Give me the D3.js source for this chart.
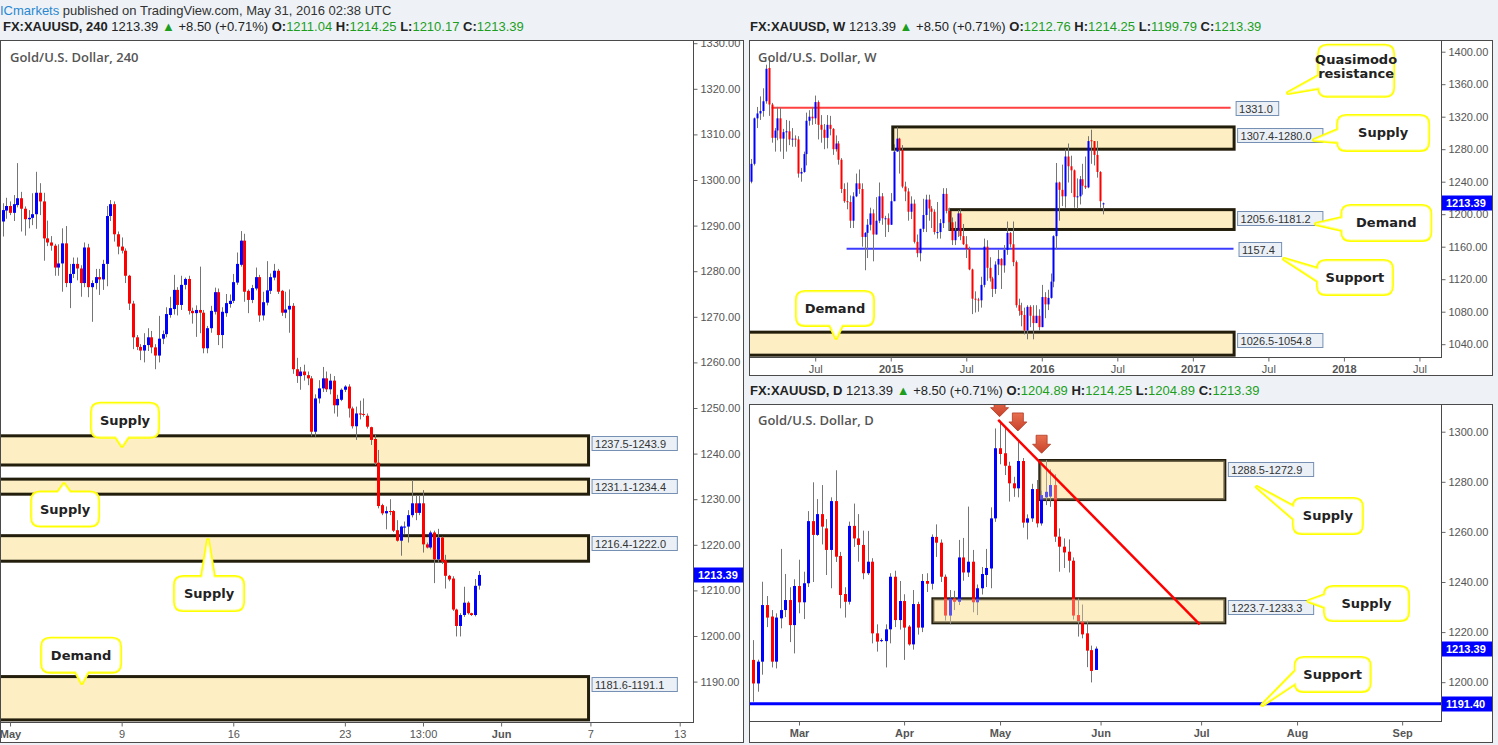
<!DOCTYPE html>
<html><head><meta charset="utf-8">
<script src="https://cdn.jsdelivr.net/npm/d3@7"></script>
<style>body{margin:0;background:#eef2f7;}svg{display:block}</style>
</head><body>
<svg id="c" width="1498" height="745"></svg>
<script>
// ================= DATA =================
// 4H candles [open, high, low, close]
const h4Candles = [
[1290.9,1294.9,1287.6,1293.4],[1293.3,1296.1,1291.5,1294.3],[1294.3,1295.3,1292.3,1292.8],[1292.8,1296.7,1291.0,1294.7],
[1294.5,1303.7,1294.0,1296.0],[1296.0,1297.4,1288.7,1293.7],[1293.7,1294.2,1287.8,1291.4],[1291.4,1293.4,1289.4,1291.7],
[1291.7,1297.1,1290.1,1292.5],[1292.5,1301.8,1289.3,1297.2],[1297.2,1299.3,1292.3,1295.3],[1295.3,1297.2,1282.3,1287.2],
[1287.2,1291.1,1285.5,1286.3],[1286.3,1287.7,1284.5,1285.6],[1285.6,1286.0,1279.0,1280.8],[1280.8,1285.9,1279.0,1281.7],
[1281.7,1289.4,1275.5,1286.1],[1286.1,1289.9,1276.5,1277.4],[1277.4,1281.6,1271.9,1279.4],[1279.4,1283.0,1278.5,1281.6],
[1281.6,1283.0,1278.0,1280.6],[1280.6,1281.3,1274.4,1277.4],[1277.4,1286.3,1276.5,1285.2],[1285.2,1286.0,1274.3,1276.5],
[1276.5,1278.0,1268.9,1277.4],[1277.4,1280.5,1276.0,1278.7],[1278.7,1280.5,1274.8,1278.2],[1278.2,1282.5,1275.9,1281.6],
[1281.6,1294.3,1276.7,1292.1],[1292.1,1295.6,1291.0,1294.7],[1294.7,1295.3,1286.5,1288.1],[1288.1,1288.7,1283.7,1285.4],
[1285.4,1287.4,1283.9,1284.5],[1284.5,1285.0,1277.4,1279.0],[1279.0,1279.2,1271.5,1272.9],[1272.9,1273.5,1262.9,1265.5],
[1265.5,1266.0,1262.7,1263.4],[1263.4,1264.0,1260.5,1262.6],[1262.6,1266.4,1260.0,1263.8],[1263.8,1267.5,1262.5,1265.5],
[1265.5,1266.9,1262.0,1263.3],[1263.3,1264.0,1258.5,1261.5],[1261.5,1270.2,1260.0,1265.2],[1265.2,1267.0,1264.0,1266.2],
[1266.2,1272.1,1265.5,1270.6],[1270.4,1274.4,1269.8,1271.9],[1271.7,1279.2,1270.5,1275.9],[1275.9,1276.5,1270.3,1272.6],
[1272.6,1279.0,1271.5,1277.0],[1277.0,1278.6,1276.0,1278.3],[1278.3,1279.0,1270.5,1271.3],[1271.3,1272.0,1268.5,1270.8],
[1270.8,1272.5,1265.6,1271.5],[1271.5,1281.0,1266.4,1270.9],[1270.9,1271.5,1262.0,1263.1],[1263.1,1268.0,1262.0,1267.5],
[1267.5,1272.4,1266.5,1271.3],[1271.1,1276.4,1270.5,1275.4],[1275.4,1276.2,1263.8,1266.0],[1266.0,1272.1,1263.1,1271.1],
[1270.8,1275.0,1270.0,1273.0],[1272.8,1274.9,1272.0,1273.5],[1273.5,1279.4,1273.0,1277.6],[1277.5,1284.1,1277.0,1281.6],
[1281.4,1288.8,1281.0,1286.7],[1286.7,1288.2,1273.3,1275.5],[1275.7,1276.0,1270.8,1273.7],[1273.7,1277.0,1273.0,1276.3],
[1276.2,1280.8,1275.8,1278.7],[1278.7,1279.2,1268.9,1270.3],[1270.3,1275.5,1269.2,1273.2],[1273.1,1282.2,1272.5,1275.8],
[1275.7,1279.5,1275.0,1278.7],[1278.6,1281.6,1278.0,1280.1],[1280.1,1280.5,1275.0,1275.5],[1275.7,1275.9,1270.2,1270.9],
[1270.9,1275.5,1269.7,1271.6],[1271.6,1276.0,1266.5,1272.4],[1272.4,1273.0,1257.5,1258.5],[1258.5,1261.0,1255.5,1257.0],
[1257.0,1259.0,1254.0,1258.0],[1258.0,1259.5,1256.0,1257.2],[1257.2,1258.0,1255.0,1256.5],[1256.5,1257.0,1243.8,1244.8],
[1244.8,1253.0,1243.7,1252.1],[1252.1,1256.1,1251.0,1254.3],[1254.3,1259.0,1253.5,1256.5],[1256.5,1258.0,1253.5,1254.1],
[1254.1,1257.5,1253.0,1256.0],[1256.0,1257.0,1248.8,1250.6],[1250.6,1252.9,1248.1,1252.0],[1251.8,1254.3,1251.5,1254.0],
[1254.0,1255.0,1253.5,1254.7],[1254.7,1255.2,1247.9,1249.9],[1249.9,1250.3,1245.5,1246.0],[1246.0,1250.3,1243.0,1248.8],
[1248.8,1251.6,1247.5,1248.7],[1248.7,1252.1,1248.1,1248.6],[1248.3,1248.8,1245.5,1245.9],[1245.8,1245.9,1241.9,1243.0],
[1243.2,1244.1,1237.5,1238.0],[1238.0,1240.8,1228.0,1228.5],[1228.7,1229.0,1226.5,1226.9],[1226.9,1228.4,1223.4,1227.4],
[1227.4,1230.0,1226.5,1227.3],[1227.4,1227.6,1222.8,1223.1],[1223.2,1225.4,1220.7,1220.9],[1220.9,1224.2,1217.6,1224.0],
[1223.8,1225.1,1222.4,1224.0],[1224.0,1227.6,1220.5,1226.5],[1226.5,1234.2,1226.0,1229.1],[1229.1,1230.9,1225.4,1227.0],
[1227.0,1230.9,1226.5,1229.1],[1229.1,1232.0,1218.3,1220.1],[1220.1,1220.5,1219.2,1219.4],[1219.4,1223.1,1219.0,1222.7],
[1222.7,1223.1,1211.6,1216.8],[1216.8,1223.5,1216.0,1221.6],[1221.6,1221.8,1215.8,1216.3],[1216.6,1217.8,1210.4,1213.2],
[1213.2,1213.4,1212.0,1212.4],[1212.6,1213.1,1205.5,1205.8],[1205.8,1206.0,1199.9,1202.2],[1202.2,1205.0,1199.9,1204.6],
[1204.6,1210.8,1204.2,1207.3],[1207.3,1207.6,1204.7,1205.0],[1205.0,1205.1,1204.4,1204.6],[1204.6,1212.5,1204.3,1211.0],
[1211.04,1214.25,1210.17,1213.39]
];
const h4TickIdx = [2,32,62,92,113,134,158,182];
const h4TickLabels = ['May','9','16','23','13:00','Jun','7','13'];
const h4TickBold = ['May','Jun'];
const h4PriceTicks = [1190,1200,1210,1220,1230,1240,1250,1260,1270,1280,1290,1300,1310,1320,1330];
const h4ZoneLow = [1237.5,1231.1,1216.4,1181.6];
const h4ZoneHigh = [1243.9,1234.4,1222.0,1191.1];
const h4ZoneText = ['1237.5-1243.9','1231.1-1234.4','1216.4-1222.0','1181.6-1191.1'];
const h4ZoneSpan = [-5,157.5];

// Weekly candles [open, high, low, close], from week of 3 Feb 2014
const wCandles = [
[1240,1268,1238,1262],[1262,1319,1260,1318],[1318,1332,1306,1324],[1324,1345,1316,1327],[1327,1355,1320,1339],
[1339,1384,1336,1379],[1380,1392,1321,1335],[1335,1337,1288,1294],[1294,1306,1277,1303],[1303,1332,1291,1318],
[1318,1331,1277,1293],[1293,1305,1268,1301],[1301,1316,1277,1302],[1302,1315,1285,1292],[1292,1306,1283,1293],
[1293,1297,1283,1292],[1292,1296,1245,1250],[1250,1257,1240,1252],[1252,1277,1251,1274],[1274,1325,1260,1315],
[1315,1328,1309,1320],[1320,1332,1310,1318],[1318,1346,1311,1338],[1338,1340,1292,1310],[1310,1322,1288,1304],
[1304,1311,1280,1294],[1294,1322,1281,1310],[1310,1321,1297,1305],[1305,1306,1273,1280],[1280,1297,1277,1287],
[1287,1290,1261,1267],[1267,1269,1226,1231],[1231,1238,1214,1216],[1216,1239,1206,1215],[1215,1223,1183,1192],
[1192,1227,1183,1222],[1222,1250,1221,1238],[1238,1255,1225,1231],[1231,1238,1160,1172],[1172,1178,1131,1177],
[1177,1194,1146,1187],[1187,1208,1180,1201],[1201,1206,1142,1175],[1175,1221,1175,1192],[1192,1239,1189,1222],
[1222,1226,1187,1195],[1195,1198,1172,1195],[1195,1201,1178,1187],
[1187,1226,1187,1216],[1216,1286,1216,1277],[1277,1307,1277,1293],[1293,1294,1250,1279],[1279,1285,1232,1234],
[1234,1240,1216,1228],[1228,1232,1192,1203],[1203,1222,1194,1213],[1213,1218,1164,1166],[1166,1175,1147,1152],
[1152,1182,1142,1182],[1182,1219,1178,1199],[1199,1224,1178,1218],[1218,1224,1192,1207],[1207,1210,1183,1203],
[1203,1206,1175,1178],[1178,1215,1170,1178],[1178,1194,1170,1189],[1189,1232,1183,1225],[1225,1232,1201,1204],
[1204,1208,1180,1190],[1190,1196,1162,1168],[1168,1191,1162,1180],[1180,1205,1172,1201],[1201,1206,1168,1173],
[1173,1188,1162,1163],[1163,1173,1146,1157],[1157,1160,1131,1132],[1132,1133,1077,1096],[1096,1105,1079,1095],
[1095,1097,1080,1094],[1094,1123,1085,1113],[1113,1170,1110,1160],[1160,1168,1118,1134],[1134,1147,1117,1121],
[1121,1123,1098,1108],[1108,1142,1102,1138],[1138,1156,1125,1145],[1145,1146,1108,1137],[1137,1162,1128,1156],
[1156,1191,1150,1177],[1177,1178,1159,1163],[1163,1191,1136,1141],[1141,1143,1085,1088],[1088,1096,1075,1081],
[1081,1091,1062,1076],[1076,1085,1052,1057],[1057,1088,1046,1086],[1086,1088,1061,1075],[1075,1088,1046,1066],
[1066,1088,1066,1075],[1075,1083,1057,1061],
[1061,1113,1061,1098],[1098,1104,1072,1089],[1089,1107,1082,1097],[1097,1127,1096,1117],[1117,1174,1110,1173],
[1173,1263,1157,1239],[1239,1240,1192,1230],[1230,1261,1210,1222],[1222,1280,1208,1271],[1271,1287,1239,1259],
[1259,1272,1226,1254],[1254,1255,1208,1221],[1221,1244,1207,1222],[1222,1247,1212,1243],[1243,1262,1224,1235],
[1235,1271,1231,1233],[1233,1296,1232,1290],[1291,1304,1262,1290],[1290,1290,1260,1273],[1273,1290,1245,1252],
[1252,1253,1208,1216],[1212.76,1214.25,1199.79,1213.39]
];
const wTickIdx = [22,48,74,100,126,152,178,204,230];
const wTickLabels = ['Jul','2015','Jul','2016','Jul','2017','Jul','2018','Jul'];
const wTickBold = ['2015','2016','2017','2018'];
const wPriceTicks = [1040,1080,1120,1160,1200,1240,1280,1320,1360,1400];
const wZoneLow = [1280.0,1181.2,1026.5];
const wZoneHigh = [1307.4,1205.6,1054.8];
const wZoneStart = [48.7,68.4,-5];
const wZoneText = ['1307.4-1280.0','1205.6-1181.2','1026.5-1054.8'];
const wZoneEnd = 166.2;
const wLevelPrice = [1331.0,1157.4];
const wLevelStart = [7,32.8];
const wLevelEnd = [165,166];
const wLevelText = ['1331.0','1157.4'];

// Daily candles [open, high, low, close], 16 Feb 2016 .. 31 May 2016
const dCandles = [
[1208.9,1216.8,1192.2,1199.5],[1199.5,1209.0,1196.2,1208.2],[1208.2,1240.1,1203.0,1230.8],[1230.8,1234.4,1222.0,1225.8],
[1226.2,1228.8,1205.9,1208.2],[1208.2,1227.5,1205.5,1225.8],[1225.5,1253.2,1221.5,1228.8],[1228.8,1243.2,1226.0,1232.8],
[1232.8,1237.9,1216.0,1222.8],[1222.8,1241.1,1211.5,1238.4],[1238.4,1248.9,1227.5,1231.9],[1231.9,1244.1,1225.2,1239.5],
[1239.5,1268.3,1238.0,1264.3],[1264.3,1279.8,1240.0,1258.8],[1258.8,1273.1,1258.4,1267.1],[1267.1,1278.7,1255.0,1262.1],
[1261.4,1265.1,1242.8,1252.8],[1252.8,1273.8,1237.5,1272.3],[1272.3,1284.6,1248.0,1250.1],[1250.4,1252.0,1229.5,1234.8],
[1235.2,1237.9,1225.8,1232.1],[1232.1,1264.1,1231.0,1262.4],[1262.4,1271.3,1254.0,1257.4],[1257.4,1267.1,1248.1,1254.8],
[1254.8,1260.5,1241.1,1243.5],[1243.5,1260.4,1242.8,1248.1],[1248.1,1249.5,1215.5,1219.5],[1219.5,1223.1,1212.2,1216.2],
[1216.4,1217.5,1216.0,1216.8],[1216.4,1223.1,1205.9,1221.1],[1221.1,1243.5,1215.5,1242.1],[1242.1,1244.5,1222.0,1224.8],
[1224.8,1240.4,1221.0,1232.4],[1232.4,1235.1,1208.9,1221.8],[1222.2,1222.8,1214.6,1215.1],[1215.1,1236.8,1213.0,1231.2],
[1231.2,1232.1,1219.0,1221.8],[1221.8,1243.2,1220.0,1240.4],[1240.4,1243.5,1236.0,1239.3],[1239.3,1259.0,1237.0,1258.0],
[1258.0,1263.0,1250.0,1255.7],[1255.7,1257.0,1240.0,1242.1],[1242.1,1243.0,1224.6,1226.6],[1226.6,1236.8,1223.1,1233.5],
[1233.5,1236.5,1228.8,1232.1],[1232.1,1256.8,1230.8,1249.8],[1249.8,1257.6,1240.5,1243.8],[1243.8,1270.1,1242.0,1248.1],
[1248.1,1252.8,1227.9,1231.9],[1231.9,1239.0,1226.8,1237.5],[1237.5,1246.0,1235.0,1243.2],[1242.8,1253.2,1238.0,1245.6],
[1245.4,1269.8,1237.5,1265.4],[1265.4,1301.3,1264.0,1293.4],[1293.4,1304.4,1287.0,1291.1],[1291.4,1302.0,1282.7,1286.4],
[1286.4,1288.0,1272.1,1279.4],[1279.4,1282.0,1274.0,1277.4],[1277.4,1296.0,1273.8,1288.3],[1288.3,1289.5,1261.7,1263.7],
[1263.7,1267.0,1257.0,1265.4],[1265.4,1279.2,1264.0,1277.1],[1277.1,1280.7,1261.8,1263.4],[1263.4,1276.5,1262.5,1274.7],
[1273.8,1288.7,1270.7,1276.0],[1274.1,1285.0,1270.0,1278.7],[1278.7,1283.0,1256.0,1258.1],[1258.1,1261.4,1244.1,1254.1],
[1254.1,1257.4,1245.6,1251.8],[1252.1,1257.0,1243.8,1248.5],[1248.5,1249.8,1225.0,1226.6],[1226.8,1233.5,1218.2,1224.4],
[1224.2,1231.0,1217.5,1219.1],[1219.5,1224.6,1206.0,1212.6],[1212.8,1214.6,1199.9,1204.5],[1204.89,1214.25,1204.89,1213.39]
];
const dTickIdx = [10,33,54,76,98,119,142];
const dTickLabels = ['Mar','Apr','May','Jun','Jul','Aug','Sep'];
const dPriceTicks = [1200,1220,1240,1260,1280,1300];
const dZoneLow = [1272.9,1223.7];
const dZoneHigh = [1288.5,1233.3];
const dZoneStart = [62.7,39.3];
const dZoneText = ['1288.5-1272.9','1223.7-1233.3'];
const dZoneEnd = 103.2;
const dSupport = 1191.4;
const dTrendIdx = [53.6,97.7];
const dTrendPrice = [1304.7,1223.1];
const dArrowIdx = [53.9,57.9,63.1];
const dArrowPrice = [1306.0,1300.3,1291.4];
const lastPrice = 1213.39;

// ================= DRAWING =================
const FONT = "'Liberation Sans', Arial, sans-serif";
const svg = d3.select('#c');
svg.append('rect').attr('width',1498).attr('height',745).attr('fill','#eef2f7');

function header(x, y, parts){
  const t = svg.append('text').attr('x',x).attr('y',y).style('font-family',FONT).style('font-size','13px');
  parts.forEach(p=>t.append('tspan').text(p[0]).attr('fill',p[1]).style('font-weight',p[2]?'bold':'normal'));
}
const G='#1c9e1c', K='#222';
function quote(tf,o,h,l,c){
  return [['FX:XAUUSD, '+tf,K,1],[' 1213.39 ',K],['\u25B2',G],[' +8.50 (+0.71%) ',K],
    ['O:',K,1],[o,G],[' H:',K,1],[h,G],[' L:',K,1],[l,G],[' C:',K,1],[c,G]];
}
header(0,15,[['ICmarkets','#2a88d0'],[' published on TradingView.com, May 31, 2016 02:38 UTC','#333']]);
header(3,31,quote('240','1211.04','1214.25','1210.17','1213.39'));
header(750,31,quote('W','1212.76','1214.25','1199.79','1213.39'));
header(750,395,quote('D','1204.89','1214.25','1204.89','1213.39'));

let clipN=0;
function makePanel(o){
  const g = svg.append('g');
  g.append('rect').attr('x',o.px0+0.5).attr('y',o.py0+0.5).attr('width',o.ox1-o.px0).attr('height',o.oy1-o.py0)
    .attr('fill','#fff').attr('stroke','#4a4a4a');
  const id='clip'+(clipN++);
  svg.append('clipPath').attr('id',id).append('rect').attr('x',o.px0+1).attr('y',o.py0+1)
    .attr('width',o.px1-o.px0-1).attr('height',o.py1-o.py0-1);
  const aid='clip'+(clipN++);
  svg.append('clipPath').attr('id',aid).append('rect').attr('x',o.px1+1).attr('y',o.py0+1)
    .attr('width',o.ox1-o.px1-1).attr('height',o.oy1-o.py0-1);
  const plot = g.append('g').attr('clip-path','url(#'+id+')');
  plot.append('rect').attr('x',o.px0).attr('y',o.py0).attr('width',o.px1-o.px0).attr('height',o.py1-o.py0).attr('fill','#fff');
  return {g, plot, o, aid};
}
function frame(P){
  const o=P.o;
  P.g.append('rect').attr('x',o.px0+0.5).attr('y',o.py0+0.5).attr('width',o.px1-o.px0).attr('height',o.py1-o.py0)
    .attr('fill','none').attr('stroke','#4a4a4a');
}
function axes(P, x, y, pticks, tidx, tlabels, bold){
  const o=P.o;
  const ya = P.g.append('g').attr('clip-path','url(#'+P.aid+')').append('g').attr('transform',`translate(${o.px1+0.5},0)`)
    .call(d3.axisRight(y).tickValues(pticks).tickSize(4).tickPadding(3).tickFormat(d3.format('.2f')));
  ya.select('.domain').remove();
  ya.selectAll('line').attr('stroke','#666');
  ya.selectAll('text').attr('fill','#555').style('font-family',FONT).style('font-size','11px');
  const xa = P.g.append('g').attr('transform',`translate(0,${o.py1+0.5})`)
    .call(d3.axisBottom(x).tickValues(tidx).tickSize(4).tickPadding(4).tickFormat((d,i)=>tlabels[i]));
  xa.select('.domain').remove();
  xa.selectAll('line').attr('stroke','#666');
  xa.selectAll('text').attr('fill','#555').style('font-family',FONT).style('font-size','11px')
    .style('font-weight',(d,i)=>bold.includes(tlabels[i])?'bold':'normal');
}
function priceTag(P, y, val){
  const o=P.o, yy=Math.round(y(val));
  P.g.append('rect').attr('x',o.px1+1).attr('y',yy-7.5).attr('width',o.ox1-o.px1-1).attr('height',15).attr('fill','#0000ff');
  P.g.append('text').attr('x',o.px1+5).attr('y',yy+4).text(val.toFixed(2)).attr('fill','#fff')
    .style('font-family',FONT).style('font-size','11px').style('font-weight','bold');
}
function candles(g, data, x, y, bw){
  const s = g.append('g').selectAll('g').data(data).enter().append('g');
  s.append('line').attr('x1',(d,i)=>Math.round(x(i))+0.5).attr('x2',(d,i)=>Math.round(x(i))+0.5)
    .attr('y1',d=>y(d[1])).attr('y2',d=>y(d[2])).attr('stroke','#757575');
  s.append('rect').attr('x',(d,i)=>Math.round(x(i))+0.5-bw/2).attr('width',bw)
    .attr('y',d=>y(Math.max(d[0],d[3]))).attr('height',d=>Math.max(1,Math.abs(y(d[0])-y(d[3]))))
    .attr('fill',d=>d[3]>=d[0]?'#0000ff':'#ff0000');
}
function zone(g, x0, x1, yTop, yBot){
  g.append('rect').attr('x',x0).attr('y',yTop).attr('width',x1-x0).attr('height',yBot-yTop)
    .attr('fill','#fdefc3').attr('stroke','#231d0c').attr('stroke-width',3);
}
function zoneLabel(g, x, yc, txt){
  const w = txt.length*6.1+6;
  g.append('rect').attr('x',x+0.5).attr('y',Math.round(yc-7)+0.5).attr('width',w).attr('height',14)
    .attr('fill','#eaf0f6').attr('stroke','#7590b2');
  g.append('text').attr('x',x+3.5).attr('y',Math.round(yc)+4.5).text(txt).attr('fill','#333')
    .style('font-family',FONT).style('font-size','11px');
}
function callout(g, c, x, y){
  const cx=x(c.at[0]), cy=y(c.at[1]), tx=x(c.to[0]), ty=y(c.to[1]);
  const w=c.w, h=c.h, x0=cx-w/2, y0=cy-h/2, x1=cx+w/2, y1=cy+h/2, r=8, tw=12;
  const cl=(v,a,b)=>Math.max(a,Math.min(b,v));
  let d=`M${x0+r},${y0}`;
  if(c.side==='top'){const bx=cl(tx,x0+r+tw/2,x1-r-tw/2); d+=`L${bx-tw/2},${y0}L${tx},${ty}L${bx+tw/2},${y0}`;}
  d+=`L${x1-r},${y0}Q${x1},${y0} ${x1},${y0+r}L${x1},${y1-r}Q${x1},${y1} ${x1-r},${y1}`;
  if(c.side==='bottom'){const bx=cl(tx,x0+r+tw/2,x1-r-tw/2); d+=`L${bx+tw/2},${y1}L${tx},${ty}L${bx-tw/2},${y1}`;}
  d+=`L${x0+r},${y1}Q${x0},${y1} ${x0},${y1-r}`;
  if(c.side==='left'){const by=cl(ty,y0+r+tw/2,y1-r-tw/2); d+=`L${x0},${by+tw/2}L${tx},${ty}L${x0},${by-tw/2}`;}
  d+=`L${x0},${y0+r}Q${x0},${y0} ${x0+r},${y0}Z`;
  g.append('path').attr('d',d).attr('fill','#fff').attr('stroke','#ffff00').attr('stroke-width',4).attr('stroke-linejoin','round');
  g.append('path').attr('d',d).attr('fill','#fff').attr('stroke','#ffff8a').attr('stroke-width',1).attr('stroke-linejoin','round');
  const n=c.text.length, off=c.dy||0;
  c.text.forEach((t,i)=>g.append('text').attr('x',cx).attr('y',cy+4.5+off+(i-(n-1)/2)*14).attr('text-anchor','middle')
    .text(t).attr('fill','#222').style('font-family',"'DejaVu Sans', Verdana, sans-serif").style('font-size','13px').style('font-weight','bold'));
}

// ---------- Left 4H panel ----------
const L = makePanel({px0:0,px1:693,py0:40,py1:722,ox1:743,oy1:742});
const xL = d3.scaleLinear().domain([0,128]).range([2.6,478.8]);
const yL = d3.scaleLinear().domain([1200,1320]).range([636,88.8]);
h4ZoneLow.forEach((lo,i)=>zone(L.plot, xL(h4ZoneSpan[0]), xL(h4ZoneSpan[1]), yL(h4ZoneHigh[i]), yL(lo)));
candles(L.plot, h4Candles, xL, yL, 3);
h4ZoneLow.forEach((lo,i)=>zoneLabel(L.plot, xL(h4ZoneSpan[1])+3, yL(h4ZoneHigh[i])+7, h4ZoneText[i]));
const h4Callouts = [
 {text:['Supply'],at:[32.9,1247.3],to:[32.1,1241.7],side:'bottom',w:66,h:33},
 {text:['Supply'],at:[16.8,1227.85],to:[16.5,1233.3],side:'top',w:66,h:33},
 {text:['Supply'],at:[55.5,1209.3],to:[55.2,1221.05],side:'top',w:68,h:33},
 {text:['Demand'],at:[21.1,1195.8],to:[21.3,1189.7],side:'bottom',w:78,h:33}
];
h4Callouts.forEach(c=>callout(L.plot,c,xL,yL));
frame(L);
axes(L, xL, yL, h4PriceTicks, h4TickIdx, h4TickLabels, h4TickBold);
priceTag(L, yL, lastPrice);
L.g.append('text').attr('x',10).attr('y',62).text('Gold/U.S. Dollar, 240').attr('fill','#555')
  .style('font-family',"'Open Sans', sans-serif").style('font-size','13px').style('font-weight','600');

// ---------- Top-right Weekly panel ----------
const W = makePanel({px0:749,px1:1441,py0:40,py1:357,ox1:1492,oy1:375});
const xW = d3.scaleLinear().domain([0,121]).range([751.3,1102.8]);
const yW = d3.scaleLinear().domain([1040,1400]).range([344.2,51.7]);
wZoneLow.forEach((lo,i)=>zone(W.plot, xW(wZoneStart[i]), xW(wZoneEnd), yW(wZoneHigh[i]), yW(lo)));
W.plot.append('line').attr('x1',xW(wLevelStart[0])).attr('x2',xW(wLevelEnd[0])).attr('y1',yW(wLevelPrice[0])).attr('y2',yW(wLevelPrice[0]))
  .attr('stroke','#ff2020').attr('stroke-width',2).attr('stroke-opacity',0.85);
W.plot.append('line').attr('x1',xW(wLevelStart[1])).attr('x2',xW(wLevelEnd[1])).attr('y1',yW(wLevelPrice[1])).attr('y2',yW(wLevelPrice[1]))
  .attr('stroke','#1a1aff').attr('stroke-width',2).attr('stroke-opacity',0.85);
candles(W.plot, wCandles, xW, yW, 2);
wZoneLow.forEach((lo,i)=>zoneLabel(W.plot, xW(wZoneEnd)+3, yW(wZoneHigh[i])+8, wZoneText[i]));
wLevelPrice.forEach((p,i)=>zoneLabel(W.plot, xW(wLevelEnd[i])+5, yW(p), wLevelText[i]));
const wCallouts = [
 {text:['Quasimodo','resistance'],at:[208.2,1376.5],to:[184.75,1349.2],side:'left',w:74,h:50,dy:-4},
 {text:['Supply'],at:[217.5,1300.0],to:[193.7,1291.3],side:'left',w:90,h:34},
 {text:['Demand'],at:[218.6,1189.2],to:[194.4,1188.0],side:'left',w:88,h:34},
 {text:['Support'],at:[207.8,1122.1],to:[183.4,1144.9],side:'left',w:74,h:33},
 {text:['Demand'],at:[28.8,1084.0],to:[29.2,1047.7],side:'bottom',w:76,h:33}
];
wCallouts.forEach(c=>callout(W.plot,c,xW,yW));
frame(W);
axes(W, xW, yW, wPriceTicks, wTickIdx, wTickLabels, wTickBold);
priceTag(W, yW, lastPrice);
W.g.append('text').attr('x',758).attr('y',62).text('Gold/U.S. Dollar, W').attr('fill','#555')
  .style('font-family',"'Open Sans', sans-serif").style('font-size','13px').style('font-weight','600');

// ---------- Bottom-right Daily panel ----------
const D = makePanel({px0:749,px1:1441,py0:404,py1:721,ox1:1492,oy1:742});
const xD = d3.scaleLinear().domain([0,75]).range([753.3,1096.0]);
const yD = d3.scaleLinear().domain([1200,1300]).range([682.2,431.7]);
dZoneLow.forEach((lo,i)=>zone(D.plot, xD(dZoneStart[i]), xD(dZoneEnd), yD(dZoneHigh[i]), yD(lo)));
candles(D.plot, dCandles, xD, yD, 3);
dZoneLow.forEach((lo,i)=>D.plot.append('rect').attr('x',xD(dZoneStart[i])).attr('y',yD(dZoneHigh[i]))
  .attr('width',xD(dZoneEnd)-xD(dZoneStart[i])).attr('height',yD(lo)-yD(dZoneHigh[i])).attr('fill','#fdefc3').attr('fill-opacity',0.35));
dZoneLow.forEach((lo,i)=>zoneLabel(D.plot, xD(dZoneEnd)+3, yD(dZoneHigh[i])+8, dZoneText[i]));
D.plot.append('line').attr('x1',749).attr('x2',1441).attr('y1',yD(dSupport)).attr('y2',yD(dSupport))
  .attr('stroke','#0000ff').attr('stroke-width',3);
D.plot.append('line').attr('x1',xD(dTrendIdx[0])).attr('y1',yD(dTrendPrice[0])).attr('x2',xD(dTrendIdx[1])).attr('y2',yD(dTrendPrice[1]))
  .attr('stroke','#ff0000').attr('stroke-width',2.5);
const grad = svg.append('defs').append('linearGradient').attr('id','ag').attr('x1',0).attr('y1',0).attr('x2',0).attr('y2',1);
grad.append('stop').attr('offset','0%').attr('stop-color','#e8704f');
grad.append('stop').attr('offset','100%').attr('stop-color','#c8402a');
dArrowIdx.forEach((ix,i)=>{
  const tx=xD(ix), ty=yD(dArrowPrice[i]);
  D.plot.append('path').attr('d',`M${tx-5.5},${ty-18}L${tx+5.5},${ty-18}L${tx+5.5},${ty-9}L${tx+9},${ty-9}L${tx},${ty}L${tx-9},${ty-9}L${tx-5.5},${ty-9}Z`)
    .attr('fill','url(#ag)').attr('stroke','#b03a24').attr('stroke-width',0.8);
});
const dCallouts = [
 {text:['Supply'],at:[125.75,1266.35],to:[110.2,1277.9],side:'left',w:68,h:34},
 {text:['Supply'],at:[134.2,1231.4],to:[121.5,1232.4],side:'left',w:83,h:33},
 {text:['Support'],at:[126.8,1203.1],to:[111.4,1190.9],side:'left',w:74,h:33}
];
dCallouts.forEach(c=>callout(D.plot,c,xD,yD));
frame(D);
axes(D, xD, yD, dPriceTicks, dTickIdx, dTickLabels, dTickLabels);
priceTag(D, yD, lastPrice);
priceTag(D, yD, dSupport);
D.g.append('text').attr('x',758).attr('y',425).text('Gold/U.S. Dollar, D').attr('fill','#555')
  .style('font-family',"'Open Sans', sans-serif").style('font-size','13px').style('font-weight','600');
</script>
</body></html>
